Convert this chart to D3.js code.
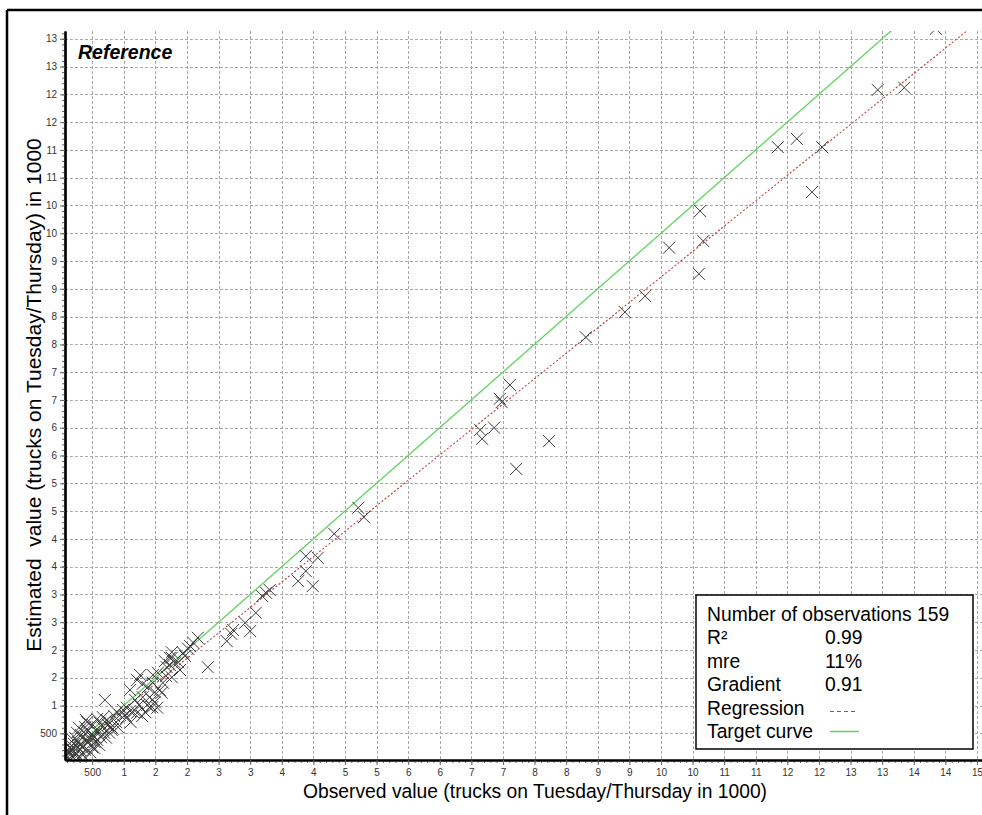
<!DOCTYPE html>
<html><head><meta charset="utf-8">
<script src="https://cdn.jsdelivr.net/npm/d3@7"></script>
<style>
body{margin:0;background:#fff;}
svg{display:block;font-family:"Liberation Sans",Arial,sans-serif;}
</style></head><body>
<svg id="chart" width="982" height="815"></svg>
<script>
// Observed / estimated values in 1000 trucks (Tuesday/Thursday)
const observed = [13.85,12.93,13.35,11.35,11.65,12.05,11.89,10.12,9.63,10.17,10.10,9.25,8.93,8.31,7.11,6.95,6.98,6.86,6.64,6.67,7.73,7.21,4.71,4.80,4.33,3.88,4.07,3.88,3.76,3.99,
3.19,3.25,3.31,3.09,2.92,3.00,2.73,2.70,2.63,2.33,2.17,2.10,2.05,1.76,1.97,1.76,1.65,1.68,1.76,1.46,1.60,1.49,1.45,1.26,1.21,1.30,1.38,1.46,1.54,1.10,
1.18,1.30,1.37,1.34,1.53,1.49,1.21,1.10,1.02,0.70,0.67,0.75,0.80,0.59,0.51,0.40,0.39,0.32,0.47,0.54,0.28,0.20,0.12,0.15,0.24,0.09,0.35,0.94,0.85,0.73,
0.81,0.62,0.50,0.43,0.23,0.31,0.17,0.20,0.29,0.39,0.50,0.58,0.64,1.73,1.81,1.73,1.57,1.41,1.29,1.15,1.05,0.99,0.78,0.83,0.66,0.51,0.42,0.37,0.54,0.42,
0.20,0.15,0.28,0.12,0.23,0.10,0.18,0.10,0.31,0.35,0.26,0.56,0.69,0.88,0.91,1.04,1.11,1.41,1.45,1.24,1.62,1.67,1.86,1.94,2.02,1.89,0.43,0.29,0.58,0.89,
0.47,0.40,0.53,0.61,0.72,0.77,0.13,0.21,0.34];
const estimated = [13.18,12.08,12.12,11.05,11.20,11.05,10.24,9.90,9.24,9.36,8.77,8.37,8.08,7.63,6.77,6.52,6.46,6.00,5.96,5.80,5.76,5.26,4.56,4.39,4.09,3.69,3.66,3.42,3.24,3.15,
2.97,3.03,3.08,2.67,2.49,2.34,2.36,2.29,2.16,1.69,2.22,2.13,2.07,1.96,1.89,1.86,1.80,1.69,1.51,1.55,1.23,1.06,0.97,1.55,1.46,1.39,1.33,1.41,1.59,1.28,
1.10,1.15,1.01,0.88,0.96,1.24,0.87,0.90,0.83,1.10,0.79,0.65,0.61,0.52,0.47,0.74,0.61,0.47,0.38,0.34,0.34,0.25,0.29,0.16,0.15,0.11,0.11,0.83,0.81,0.74,
0.56,0.69,0.43,0.33,0.42,0.29,0.22,0.07,0.07,0.20,0.25,0.38,0.43,1.86,1.77,1.73,1.28,0.97,0.81,0.88,0.96,0.92,0.69,0.58,0.61,0.65,0.70,0.52,0.43,0.38,
0.38,0.25,0.25,0.15,0.11,0.20,0.20,0.06,0.20,0.27,0.51,0.56,0.51,0.70,0.61,0.78,0.70,1.15,1.10,1.01,1.41,1.53,1.78,1.95,2.02,1.64,0.54,0.60,0.76,0.88,
0.16,0.06,0.24,0.29,0.42,0.51,0.04,0.31,0.42];

const xTickValues = [0.5,1,1.5,2,2.5,3,3.5,4,4.5,5,5.5,6,6.5,7,7.5,8,8.5,9,9.5,10,10.5,11,11.5,12,12.5,13,13.5,14,14.5];
const xTickLabels = ["500","1","2","2","3","3","4","4","5","5","6","6","7","7","8","8","9","9","10","10","11","11","12","12","13","13","14","14","15"];
const yTickValues = [0.5,1,1.5,2,2.5,3,3.5,4,4.5,5,5.5,6,6.5,7,7.5,8,8.5,9,9.5,10,10.5,11,11.5,12,12.5,13];
const yTickLabels = ["500","1","2","2","3","3","4","4","5","5","6","6","7","7","8","8","9","9","10","10","11","11","12","12","13","13"];

const regressionSlope = 0.915, regressionIntercept = 0.02;
const legendLabels = ["Number of observations 159","R²","mre","Gradient","Regression","Target curve"];
const legendValues = ["","0.99","11%","0.91","",""];

const svg = d3.select("#chart");
svg.append("rect").attr("width",982).attr("height",815).attr("fill","#fff");

const L=65, R=982, T=31, B=760;
const x = d3.scaleLinear().domain([0.07,14.58]).range([L,R]);
const y = d3.scaleLinear().domain([0.02,13.14]).range([B,T]);

// outer frame
svg.append("line").attr("x1",7).attr("x2",982).attr("y1",10).attr("y2",10).attr("stroke","#000").attr("stroke-width",2.5);
svg.append("line").attr("x1",7).attr("x2",7).attr("y1",10).attr("y2",815).attr("stroke","#000").attr("stroke-width",2.5);

// grid
const grid = svg.append("g").attr("stroke","#a9a9a9").attr("stroke-width",1).attr("stroke-dasharray","3,2");
xTickValues.forEach(v=>{ const px=Math.round(x(v))+0.5;
  grid.append("line").attr("x1",px).attr("x2",px).attr("y1",T).attr("y2",B);});
yTickValues.forEach(v=>{ const py=Math.round(y(v))+0.5;
  grid.append("line").attr("x1",L).attr("x2",R).attr("y1",py).attr("y2",py);});

svg.append("clipPath").attr("id","clip").append("rect").attr("x",L).attr("y",T).attr("width",R-L).attr("height",B-T);
const plot = svg.append("g").attr("clip-path","url(#clip)");

// target curve y = x
const line = d3.line().x(d=>x(d[0])).y(d=>y(d[1]));
plot.append("path").datum([[0,0],[15,15]]).attr("d",line)
  .attr("fill","none").attr("stroke","#5fd35f").attr("stroke-width",1.3);
// regression
plot.append("path").datum([0,15].map(v=>[v, regressionIntercept+regressionSlope*v])).attr("d",line)
  .attr("fill","none").attr("stroke","#b9403c").attr("stroke-width",1.1).attr("stroke-dasharray","2,2");

// points
plot.append("g").selectAll("path").data(observed.map((o,i)=>[o,estimated[i]])).join("path")
  .attr("transform",d=>`translate(${x(d[0])},${y(d[1])})`)
  .attr("d","M-6,-6L6,6M-6,6L6,-6")
  .attr("fill","none").attr("stroke","#3c3c3c").attr("stroke-width",1);

// axes
const minorX = d3.range(1,146).map(i=>i/10);
const minorY = d3.range(1,132).map(i=>i/10);
const ax = svg.append("g").attr("transform",`translate(0,${B})`);
ax.call(d3.axisBottom(x).tickValues(minorX).tickSize(3).tickFormat("").tickSizeOuter(0));
ax.call(g=>g.selectAll(".tick line").attr("stroke","#666"));
const ax2 = svg.append("g").attr("transform",`translate(0,${B})`)
  .call(d3.axisBottom(x).tickValues(xTickValues).tickFormat((d,i)=>xTickLabels[i]).tickSize(5).tickSizeOuter(0).tickPadding(4));
const ay = svg.append("g").attr("transform",`translate(${L},0)`);
ay.call(d3.axisLeft(y).tickValues(minorY).tickSize(3).tickFormat("").tickSizeOuter(0));
ay.call(g=>g.selectAll(".tick line").attr("stroke","#666"));
const ay2 = svg.append("g").attr("transform",`translate(${L},0)`)
  .call(d3.axisLeft(y).tickValues(yTickValues).tickFormat((d,i)=>yTickLabels[i]).tickSize(5).tickSizeOuter(0).tickPadding(3));
[ax,ax2,ay,ay2].forEach(g=>{
  g.select(".domain").attr("stroke","#000").attr("stroke-width",2.2);
  g.selectAll("text").attr("font-size",10).attr("fill","#333").attr("font-family","'Liberation Sans',Arial,sans-serif");
});
[ax2,ay2].forEach(g=>g.selectAll(".tick line").attr("stroke","#666"));

// titles
svg.append("text").attr("x",535).attr("y",798).attr("text-anchor","middle").attr("font-size",19.3)
  .text("Observed value (trucks on Tuesday/Thursday in 1000)");
svg.append("text").attr("transform","translate(41,395) rotate(-90)").attr("text-anchor","middle").attr("font-size",21)
  .style("white-space","pre").text("Estimated  value (trucks on Tuesday/Thursday) in 1000");
svg.append("text").attr("x",78).attr("y",59).attr("font-size",19.5).attr("font-weight","bold").attr("font-style","italic")
  .text("Reference");

// legend
const lg = svg.append("g");
lg.append("rect").attr("x",696).attr("y",595).attr("width",277).attr("height",154)
  .attr("fill","#fff").attr("stroke","#000").attr("stroke-width",1.5);
legendLabels.forEach((t,i)=>{
  const by = 621 + i*23.4;
  lg.append("text").attr("x",707).attr("y",by).attr("font-size",19.3).text(t);
  if(legendValues[i]) lg.append("text").attr("x",825).attr("y",by).attr("font-size",19.3).text(legendValues[i]);
});
lg.append("line").attr("x1",830).attr("x2",858).attr("y1",711.5).attr("y2",711.5)
  .attr("stroke","#b9403c").attr("stroke-width",1.2).attr("stroke-dasharray","4,3");
lg.append("line").attr("x1",830).attr("x2",859).attr("y1",731.5).attr("y2",731.5)
  .attr("stroke","#5fd35f").attr("stroke-width",1.5);
</script>
</body></html>
